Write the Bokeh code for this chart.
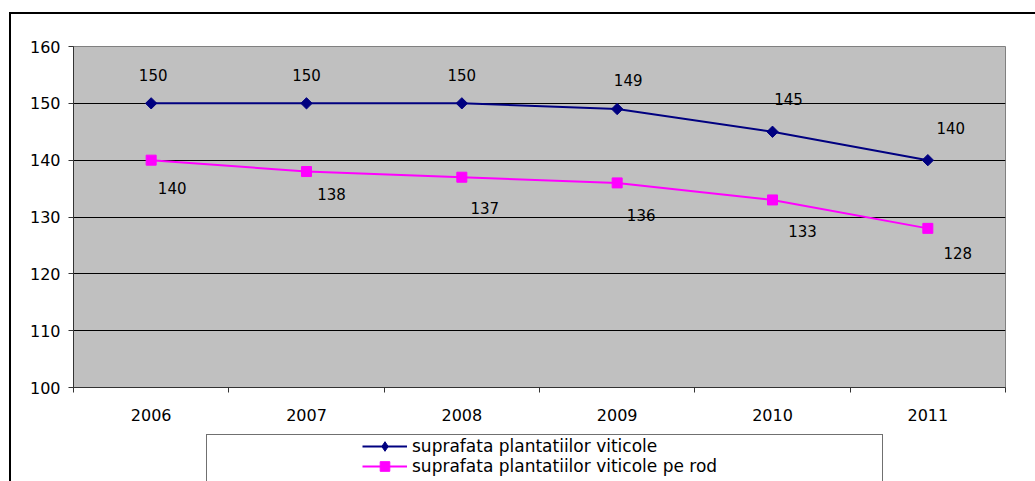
import math
from bokeh.plotting import figure
from bokeh.layouts import column
from bokeh.models import (ColumnDataSource, Range1d, FixedTicker, Legend,
                          LegendItem, InlineStyleSheet)
from bokeh.embed import file_html
from bokeh.resources import INLINE
from bokeh.core.properties import value

# ---- data ----
years = ["2006", "2007", "2008", "2009", "2010", "2011"]
total_area = [150, 150, 150, 149, 145, 140]
bearing_area = [140, 138, 137, 136, 133, 128]
y_ticks = [100, 110, 120, 130, 140, 150, 160]
series_names = ["suprafata plantatiilor viticole",
                "suprafata plantatiilor viticole pe rod"]

# ---- label offsets (screen px, styling only) ----
total_dx = [2, 0, 0, 11, 16, 23]
total_dy = [-28, -28, -28, -29, -33, -32]
bearing_dx = [21, 25, 23, 24, 30, 30]
bearing_dy = [28, 22, 31, 32, 31, 25]

FONT = "DejaVu Sans"
NAVY = "#000080"
MAGENTA = "#FF00FF"

xpos = [i + 0.5 for i in range(len(years))]

src_total = ColumnDataSource(dict(x=xpos, y=total_area,
                                  label=[str(v) for v in total_area],
                                  dx=total_dx, dy=total_dy))
src_bearing = ColumnDataSource(dict(x=xpos, y=bearing_area,
                                    label=[str(v) for v in bearing_area],
                                    dx=bearing_dx, dy=bearing_dy))

chart_css = InlineStyleSheet(css="""
:host::before {
  content: ""; position: absolute; left: 9px; top: 12px; right: 0; bottom: 0;
  border-left: 2px solid black; border-top: 2px solid black;
  pointer-events: none; z-index: 5;
}
""")
legend_css = InlineStyleSheet(css="""
:host::before {
  content: ""; position: absolute; left: 9px; top: 0; bottom: 0; width: 0;
  border-left: 2px solid black;
  pointer-events: none; z-index: 5;
}
:host::after {
  content: ""; position: absolute; left: 206px; top: 4px; width: 677px; bottom: 0;
  border: 1px solid #707070; border-bottom: none;
  pointer-events: none; z-index: 5;
}
""")

p = figure(width=1035, height=430,
           x_range=Range1d(0, len(years)), y_range=Range1d(y_ticks[0], y_ticks[-1]),
           output_backend="svg", toolbar_location=None,
           min_border_left=73, min_border_right=30,
           min_border_top=46, min_border_bottom=43,
           background_fill_color="#C0C0C0", border_fill_color="white",
           outline_line_color="#808080", outline_line_width=1,
           stylesheets=[chart_css])

# axes
p.yaxis.ticker = FixedTicker(ticks=y_ticks)
p.yaxis.major_label_text_font = FONT
p.yaxis.major_label_text_font_size = "16px"
p.yaxis.major_label_text_color = "black"
p.yaxis.major_tick_out = 5
p.yaxis.major_tick_in = 0
p.yaxis.minor_tick_line_color = None
p.yaxis.axis_line_color = "#333333"
p.yaxis.major_tick_line_color = "#333333"
p.yaxis.major_label_standoff = 8

p.xaxis.ticker = FixedTicker(ticks=xpos, minor_ticks=list(range(len(years) + 1)))
p.xaxis.major_label_overrides = {xv: yr for xv, yr in zip(xpos, years)}
p.xaxis.major_label_text_font = FONT
p.xaxis.major_label_text_font_size = "16px"
p.xaxis.major_label_text_color = "black"
p.xaxis.major_tick_line_color = None
p.xaxis.major_tick_out = 0
p.xaxis.major_tick_in = 0
p.xaxis.minor_tick_out = 5
p.xaxis.minor_tick_in = 0
p.xaxis.minor_tick_line_color = "#333333"
p.xaxis.axis_line_color = "#333333"
p.xaxis.major_label_standoff = 16

p.xgrid.visible = False
p.ygrid.ticker = FixedTicker(ticks=y_ticks[1:-1])
p.ygrid.grid_line_color = "black"
p.ygrid.grid_line_width = 1

line_kw1 = dict(line_color=NAVY, line_width=2)
mark_kw1 = dict(marker="square", angle=math.pi / 4, size=8,
                fill_color=NAVY, line_color=NAVY)
line_kw2 = dict(line_color=MAGENTA, line_width=2)
mark_kw2 = dict(marker="square", size=10, fill_color=MAGENTA, line_color=MAGENTA)

# series
p.line("x", "y", source=src_total, **line_kw1)
p.scatter("x", "y", source=src_total, **mark_kw1)
p.line("x", "y", source=src_bearing, **line_kw2)
p.scatter("x", "y", source=src_bearing, **mark_kw2)

# data labels
for src in (src_total, src_bearing):
    p.text("x", "y", text="label", source=src, x_offset="dx", y_offset="dy",
           text_align="center", text_baseline="middle",
           text_font=value(FONT), text_font_size="15px", text_color="black")

# ---- legend strip (second figure; its copies of the series are out of view) ----
lg = figure(width=1035, height=51, x_range=Range1d(-1, 0), y_range=Range1d(0, 1),
            output_backend="svg", toolbar_location=None,
            x_axis_type=None, y_axis_type=None, min_border=0,
            background_fill_color="white", border_fill_color="white",
            outline_line_color=None, stylesheets=[legend_css])
lg.xgrid.visible = False
lg.ygrid.visible = False
k1 = lg.line("x", "y", source=src_total, **line_kw1)
k1m = lg.scatter("x", "y", source=src_total, marker="diamond", size=13,
                 fill_color=NAVY, line_color=NAVY)
k2 = lg.line("x", "y", source=src_bearing, **line_kw2)
k2m = lg.scatter("x", "y", source=src_bearing, **mark_kw2)

leg_kw = dict(orientation="vertical", glyph_width=45, glyph_height=24,
              label_height=24, label_standoff=5, padding=0, margin=0,
              label_text_font=FONT, label_text_font_size="17px",
              label_text_color="black",
              border_line_alpha=0, background_fill_alpha=0)
lg.add_layout(Legend(items=[LegendItem(label=series_names[0], renderers=[k1, k1m])],
                     location=(289, 23), **leg_kw))
lg.add_layout(Legend(items=[LegendItem(label=series_names[1], renderers=[k2, k2m])],
                     location=(289, 3), **leg_kw))

layout = column(p, lg, spacing=0)
open("out.html", "w").write(file_html(layout, INLINE))
